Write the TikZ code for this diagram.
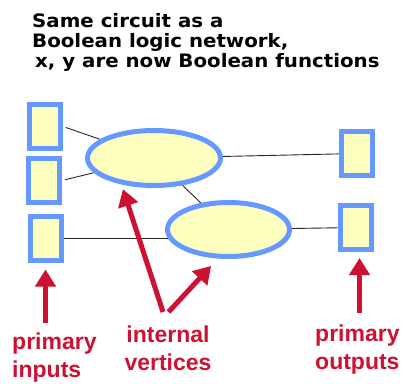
\documentclass[tikz,border=0pt]{standalone}
\usepackage{fontspec}
\setmainfont{Liberation Sans}
\newfontfamily\headfont[FakeStretch=1.07]{DejaVu Sans}
\usetikzlibrary{arrows.meta,shapes.geometric,backgrounds}
\definecolor{netblue}{HTML}{6699FF}
\definecolor{netfill}{HTML}{FFFFC0}
\definecolor{netred}{HTML}{CC1133}

\begin{document}
\begin{tikzpicture}[x=1pt,y=-1pt,
    iobox/.style={draw=netblue,fill=netfill,line width=5pt,minimum width=31pt,minimum height=44pt,inner sep=0pt},
    vtx/.style={ellipse,draw=netblue,fill=netfill,line width=5pt,inner sep=0pt},
    wire/.style={draw=black!85,line width=0.9pt},
    pointer/.style={draw=netred,line width=5pt,-{Triangle[length=17pt,width=20pt]}},
    head/.style={anchor=base west,inner sep=0pt,font=\headfont\bfseries\fontsize{18.5}{20}\selectfont},
    lbl/.style={text=netred,inner sep=0pt,font=\bfseries\fontsize{23}{28}\selectfont}]
  \useasboundingbox (0,0) rectangle (404,383);
  % heading
  \node[head] (h1) at (32,27) {Same circuit as a};
  \node[head] (h2) at (32,47) {Boolean logic network,};
  \node[head] (h3) at (35,67) {x, y are now Boolean functions};
  % network
  \node[iobox] (in1) at (45,126.5) {};
  \node[iobox] (in2) at (44,180.5) {};
  \node[iobox] (in3) at (45.5,238) {};
  \node[iobox] (out1) at (357,153.5) {};
  \node[iobox] (out2) at (355.5,227.5) {};
  \node[vtx,minimum width=133pt,minimum height=55pt] (x) at (154,158) {};
  \node[vtx,minimum width=122pt,minimum height=54pt] (y) at (228.5,229.5) {};
  \begin{scope}[on background layer]
    \draw[wire,shorten <=3pt] (in1.east) -- (x);
    \draw[wire,shorten <=3pt] (in2.east) -- (x);
    \draw[wire] (in3.east) -- (in3.east -| y.center);
    \foreach \a/\b in {x/out1,x/y,y/out2} \draw[wire] (\a) -- (\b);
  \end{scope}
  % labels
  \node[lbl,anchor=north west,align=left] (pin) at (12,333) {primary\\inputs};
  \node[lbl,anchor=north,align=center] (iv) at (168,326) {internal\\vertices};
  \node[lbl,anchor=north west,align=left] (pout) at (315,325) {primary\\outputs};
  \coordinate (pintail) at (45.5,323);
  \coordinate (ivtail1) at (163,312);
  \coordinate (ivtail2) at (168.5,312);
  \coordinate (pouttail) at (359.5,313);
  \draw[pointer,shorten >=7pt] (pintail) -- (in3.south);
  \draw[pointer,shorten >=5pt] (ivtail1) -- (x.219.5);
  \draw[pointer,shorten >=10pt] (ivtail2) -- (y.250);
  \draw[pointer,shorten >=6pt] (pouttail) -- ([xshift=4pt]out2.south);
\end{tikzpicture}
\end{document}
